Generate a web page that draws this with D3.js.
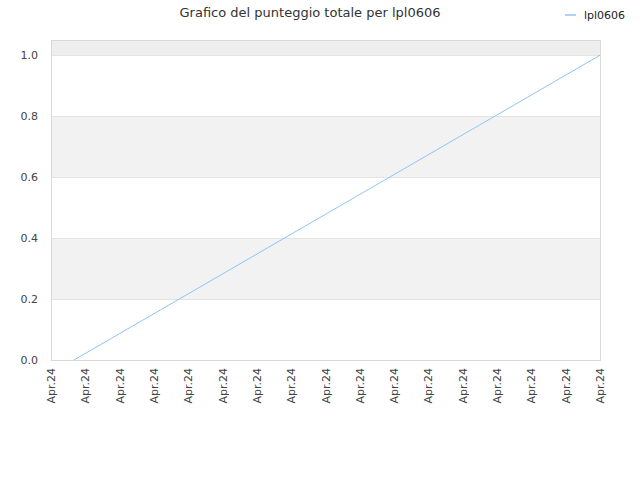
<!DOCTYPE html>
<html>
<head>
<meta charset="utf-8">
<script src="https://cdn.jsdelivr.net/npm/d3@7"></script>
<style>
  body { margin: 0; background: #fff; }
  text { font-family: "DejaVu Sans", sans-serif; }
</style>
</head>
<body>
<div id="chart"></div>
<script>
// data
var seriesName = "lpl0606";
var xValues = [0.67, 16];
var scores = [0, 1];
var tickLabels = ["Apr.24","Apr.24","Apr.24","Apr.24","Apr.24","Apr.24","Apr.24","Apr.24","Apr.24",
                  "Apr.24","Apr.24","Apr.24","Apr.24","Apr.24","Apr.24","Apr.24","Apr.24"];
var yTicks = [0, 0.2, 0.4, 0.6, 0.8, 1.0];

var w = 640, h = 480;
var plotLeft = 51, plotRight = 600, plotTop = 40, plotBottom = 360;

var svg = d3.select("#chart").append("svg")
    .attr("width", w)
    .attr("height", h);

var xScale = d3.scaleLinear()
    .domain([0, tickLabels.length - 1])
    .range([plotLeft, plotRight]);

var yScale = d3.scaleLinear()
    .domain([0, 1.05])
    .range([plotBottom, plotTop]);

// alternating bands
var bands = [[0, 0.2], [0.2, 0.4], [0.4, 0.6], [0.6, 0.8], [0.8, 1.0], [1.0, 1.05]];
svg.append("g").selectAll("rect")
    .data(bands)
    .enter()
    .append("rect")
    .attr("x", plotLeft)
    .attr("width", plotRight - plotLeft)
    .attr("y", function(d) { return yScale(d[1]); })
    .attr("height", function(d) { return yScale(d[0]) - yScale(d[1]); })
    .style("fill", function(d, i) {
        if (i == 5) return "#eeeeee";
        return i % 2 ? "#f2f2f2" : "#ffffff";
    });

// grid lines
svg.append("g").selectAll("line")
    .data(yTicks)
    .enter()
    .append("line")
    .attr("x1", plotLeft)
    .attr("x2", plotRight)
    .attr("y1", function(d) { return Math.round(yScale(d)) + 0.5; })
    .attr("y2", function(d) { return Math.round(yScale(d)) + 0.5; })
    .style("stroke", "#e3e3e3");

// frame
svg.append("rect")
    .attr("x", plotLeft + 0.5)
    .attr("y", plotTop + 0.5)
    .attr("width", plotRight - plotLeft)
    .attr("height", plotBottom - plotTop)
    .style("fill", "none")
    .style("stroke", "#d9d9d9");

// y axis labels
svg.append("g").selectAll("text")
    .data(yTicks)
    .enter()
    .append("text")
    .attr("x", 38)
    .attr("y", function(d) { return yScale(d) + 4; })
    .attr("text-anchor", "end")
    .style("font-size", "11px")
    .style("fill", "#444")
    .text(function(d) { return d.toFixed(1); });

// x axis labels
svg.append("g").selectAll("text")
    .data(tickLabels)
    .enter()
    .append("text")
    .attr("transform", function(d, i) {
        return "translate(" + (xScale(i) + 4) + "," + 368 + ") rotate(-90)";
    })
    .attr("text-anchor", "end")
    .style("font-size", "11px")
    .style("fill", "#444")
    .text(function(d) { return d; });

// line
var line = d3.line()
    .x(function(d, i) { return xScale(xValues[i]); })
    .y(function(d) { return yScale(d); });

svg.append("path")
    .datum(scores)
    .attr("d", line)
    .style("fill", "none")
    .style("stroke", "#90c4f4")
    .style("stroke-width", 1);

// title
svg.append("text")
    .attr("x", 310)
    .attr("y", 17)
    .attr("text-anchor", "middle")
    .style("font-size", "13px")
    .style("fill", "#333")
    .text("Grafico del punteggio totale per " + seriesName);

// legend
var legend = svg.append("g")
    .attr("transform", "translate(565,15)");
legend.append("line")
    .attr("x1", 0)
    .attr("x2", 11)
    .style("stroke", "#90c4f4")
    .style("stroke-width", 1.5);
legend.append("text")
    .attr("x", 19)
    .attr("y", 4)
    .style("font-size", "11px")
    .style("fill", "#222")
    .text(seriesName);
</script>
</body>
</html>
